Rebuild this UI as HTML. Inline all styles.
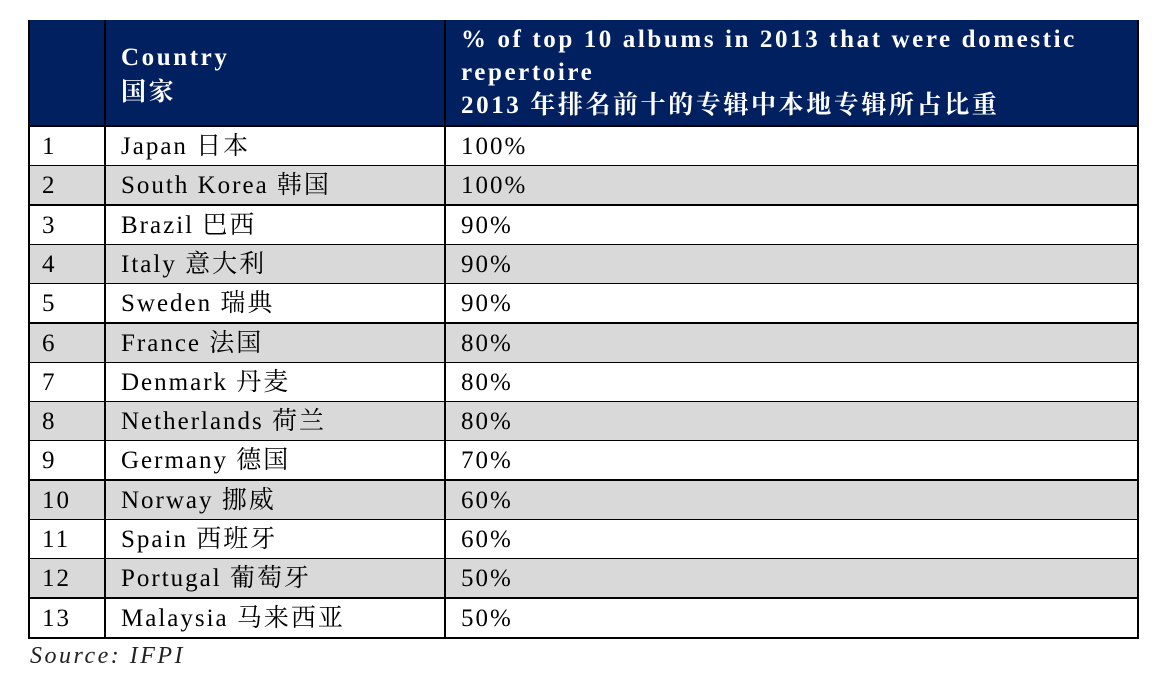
<!DOCTYPE html>
<html><head><meta charset="utf-8"><style>
body{margin:0;width:1164px;height:684px;background:#fff;overflow:hidden;font-family:"Liberation Serif","Noto Serif CJK SC","Noto Sans CJK SC",serif;}
#t{position:absolute;left:28px;top:20px;width:1111px;}
.hdr{position:absolute;left:0;top:0;width:1111px;height:107px;background:#002060;color:#fff;font-weight:bold;font-size:25px;line-height:33px;letter-spacing:2.6px;}
.row{position:absolute;left:0;width:1111px;height:39px;border-bottom:2px solid #000;box-sizing:border-box;font-size:25px;letter-spacing:2px;color:#000;}
.c{position:absolute;top:0;height:100%;line-height:40px;white-space:nowrap;}
.vl{position:absolute;width:2px;background:#000;}
.src{position:absolute;left:30px;top:643px;font-style:italic;font-size:24px;letter-spacing:2.5px;color:#222;}
</style></head><body>
<div id="t">
<div class="hdr">
<div style="position:absolute;left:93px;top:20px;line-height:35px">Country<br>国家</div>
<div style="position:absolute;left:433px;top:3px;width:670px;white-space:nowrap">% of top 10 albums in 2013 that were domestic<br>repertoire<br>2013 年排名前十的专辑中本地专辑所占比重</div>
</div>
<div id="rows"></div>
</div>
<div class="src">Source: IFPI</div>
<script>
const ranks=[1,2,3,4,5,6,7,8,9,10,11,12,13];
const countries=["Japan 日本","South Korea 韩国","Brazil 巴西","Italy 意大利","Sweden 瑞典","France 法国","Denmark 丹麦","Netherlands 荷兰","Germany 德国","Norway 挪威","Spain 西班牙","Portugal 葡萄牙","Malaysia 马来西亚"];
const shares=[100,100,90,90,90,80,80,80,70,60,60,50,50];
const R=document.getElementById('rows');
const rowH=(638-127)/13;
countries.forEach((c,i)=>{
  const r=document.createElement('div');
  
  
  r.className='row';
  r.style.top=(107+i*rowH)+'px';
  r.style.height=Math.round(rowH+1)+'px';
  r.style.background=i%2?'#d9d9d9':'#fff';
  r.innerHTML='<div class="c" style="left:14px">'+ranks[i]+'</div><div class="c" style="left:93px">'+c+'</div><div class="c" style="left:433px">'+shares[i]+'%</div>';
  R.appendChild(r);
});
const T=document.getElementById('t');
[0,76,416,1109].forEach((x)=>{
  const v=document.createElement('div');
  
  
  v.className='vl';v.style.left=x+'px';v.style.top='0px';v.style.height='619px';
  T.appendChild(v);
});
const b=document.createElement('div');


b.style.cssText='position:absolute;left:0;top:105px;width:1111px;height:2px;background:#000';
T.appendChild(b);
</script>
</body></html>
